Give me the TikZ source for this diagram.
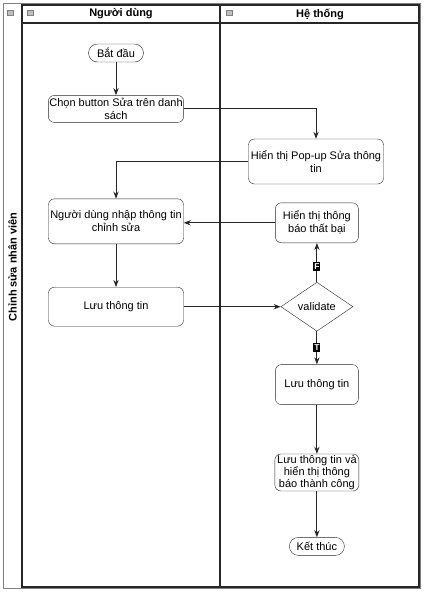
\documentclass[tikz,border=0pt]{standalone}
\usepackage{fontspec}
\setmainfont{Liberation Sans}
\usepackage{tikz}
\usetikzlibrary{arrows.meta,positioning,shapes.geometric}

\begin{document}
\begin{tikzpicture}[x=1pt, y=-1pt, >=Stealth,
  lane/.style={draw=black!85, line width=1.6pt},
  box/.style={rectangle, draw=black!85, rounded corners=6pt, minimum height=40pt,
              font=\fontsize{11}{13}\selectfont, align=center, inner sep=1pt},
  term/.style={rectangle, draw=black!85, rounded corners=9pt, minimum width=55pt,
               minimum height=18pt, font=\fontsize{11}{13}\selectfont, inner sep=1pt},
  check/.style={diamond, draw=black!85, aspect=1.47, minimum width=72pt,
                minimum height=49pt, inner sep=0pt, font=\fontsize{11}{13}\selectfont},
  flow/.style={->, black!85, line width=0.9pt},
  flag/.style={fill=black, text=white, font=\fontsize{8.5}{9}\selectfont\bfseries,
               inner xsep=1pt, inner ysep=1.5pt},
  head/.style={font=\fontsize{11}{13}\selectfont\bfseries},
  fold/.style={draw=gray, fill=gray!50, minimum width=6pt, minimum height=5pt,
               inner sep=0pt}]

  \useasboundingbox (0,0) rectangle (424,592);

  % Pool and lanes
  \draw[gray, line width=0.8pt] (3,3) rectangle (420,588);
  \draw[lane] (22,5) rectangle (220,587);
  \draw[lane] (220,5) rectangle (419,587);
  \draw[lane] (22,23) -- (419,23);
  \node[head, rotate=90] (pool) at (12.5,267) {Chỉnh sửa nhân viên};
  \node[head] (userlane) at (121,14) {Người dùng};
  \node[head] (syslane) at (320,14) {Hệ thống};
  \node[fold] (fold0) at (10.5,12.5) {};
  \node[fold] (fold1) at (30,12.5) {};
  \node[fold] (fold2) at (229,12.5) {};

  % User lane
  \node[term] (start) at (116,53) {Bắt đầu};
  \node[box, minimum width=135pt, minimum height=27pt, below=33pt of start] (choose)
    {Chọn button Sửa trên danh\\sách};
  \node[box, minimum width=135pt, minimum height=45pt, below=76pt of choose] (input)
    {Người dùng nhập thông tin\\chỉnh sửa};
  \node[box, minimum width=135pt, minimum height=39pt, below=43pt of input] (saveL)
    {Lưu thông tin};

  % System lane
  \node[box, minimum width=135pt, minimum height=45pt] (popup) at (316,161.5)
    {Hiển thị Pop-up Sửa thông\\tin};
  \node[check, right=97pt of saveL] (validate) {validate};
  \node[box, minimum width=83pt, above=39pt of validate] (fail)
    {Hiển thị thông\\báo thất bại};
  \node[box, minimum width=83pt, below=33pt of validate] (saveR) {Lưu thông tin};
  \node[box, minimum width=84pt, minimum height=37pt, inner sep=0pt, below=49pt of saveR,
        font=\fontsize{11}{11.8}\selectfont] (done)
    {Lưu thông tin và\\hiển thị thông\\báo thành công};
  \node[term, below=46pt of done] (stop) {Kết thúc};

  % Arrows
  \draw[flow] (start) -- (choose);
  \draw[flow] (choose.east) -| (popup.north);
  \draw[flow] (popup.west) -| (input.north);
  \draw[flow] (input) -- (saveL);
  \draw[flow] (saveL) -- (validate);
  \draw[flow] (validate) -- node[flag, pos=0.4] {F} (fail);
  \draw[flow] (fail.west) -- (fail.west -| input.east);
  \draw[flow] (validate) -- node[flag] {T} (saveR);
  \draw[flow] (saveR) -- (done);
  \draw[flow] (done) -- (stop);
\end{tikzpicture}
\end{document}
